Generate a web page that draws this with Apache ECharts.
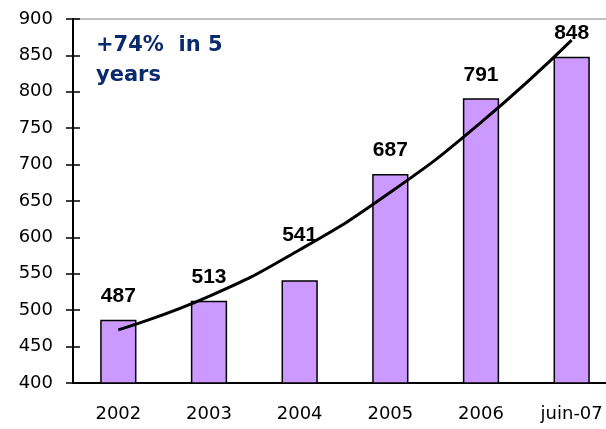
<!DOCTYPE html>
<html>
<head>
<meta charset="utf-8">
<script src="https://cdn.jsdelivr.net/npm/echarts@6/dist/echarts.min.js"></script>
<style>
html,body{margin:0;padding:0;background:#fff;overflow:hidden;width:606px;height:429px;}
#chart{width:640px;height:429px;}
</style>
</head>
<body>
<div id="chart"></div>
<script>
const categories = ['2002', '2003', '2004', '2005', '2006', 'juin-07'];
const values = [487, 513, 541, 687, 791, 848];
const trend = [473, 519, 583, 662, 758, 871];
const yTicks = { min: 400, max: 900, interval: 50 };
const noteText = '+74%  in 5\nyears';

const chart = echarts.init(document.getElementById('chart'));
const axisFont = { fontFamily: 'DejaVu Sans', fontSize: 18, color: '#000' };

const barData = values.map((v, i) => {
  if (categories[i] === '2004') {
    return { value: v, label: { offset: [0, -22] } };
  }
  return v;
});

chart.setOption({
  animation: false,
  backgroundColor: '#fff',
  grid: {
    left: 73, top: 19, width: 544, height: 364,
    show: true, borderColor: '#808080', borderWidth: 1, backgroundColor: 'transparent'
  },
  xAxis: [{
    type: 'category', data: categories, position: 'bottom',
    axisLine: { lineStyle: { color: '#000', width: 2 } },
    axisTick: { length: 6, lineStyle: { color: '#000', width: 1.5 } },
    axisLabel: Object.assign({ margin: 22 }, axisFont),
    splitLine: { show: false }
  }, {
    type: 'category', data: categories, position: 'bottom',
    axisLine: { show: false },
    axisTick: { inside: true, length: 7, lineStyle: { color: '#000', width: 1.5 } },
    axisLabel: { show: false },
    splitLine: { show: false }
  }],
  yAxis: [{
    type: 'value', min: yTicks.min, max: yTicks.max, interval: yTicks.interval,
    position: 'left',
    axisLine: { show: true, lineStyle: { color: '#000', width: 2 } },
    axisTick: { show: true, length: 7, lineStyle: { color: '#000', width: 1.5 } },
    axisLabel: Object.assign({ margin: 20 }, axisFont),
    splitLine: { show: false }
  }, {
    type: 'value', min: yTicks.min, max: yTicks.max, interval: yTicks.interval,
    position: 'left',
    axisLine: { show: false },
    axisTick: { show: true, inside: true, length: 7, lineStyle: { color: '#000', width: 1.5 } },
    axisLabel: { show: false },
    splitLine: { show: false }
  }],
  series: [{
    type: 'bar', data: barData, barWidth: '40%',
    itemStyle: { color: '#CC99FF', borderColor: '#000', borderWidth: 1.5 },
    label: {
      show: true, position: 'top', distance: 13,
      fontFamily: 'Liberation Sans', fontWeight: 'bold', fontSize: 21, color: '#000'
    },
    z: 2
  }, {
    type: 'line', data: trend, smooth: true, symbol: 'none',
    lineStyle: { color: '#000', width: 3 },
    z: 3
  }],
  graphic: [{
    type: 'text', left: 96, top: 31,
    style: {
      text: noteText,
      font: 'bold 21px "DejaVu Sans"',
      lineHeight: 30,
      fill: '#0A2A6E'
    }
  }]
});
</script>
</body>
</html>
